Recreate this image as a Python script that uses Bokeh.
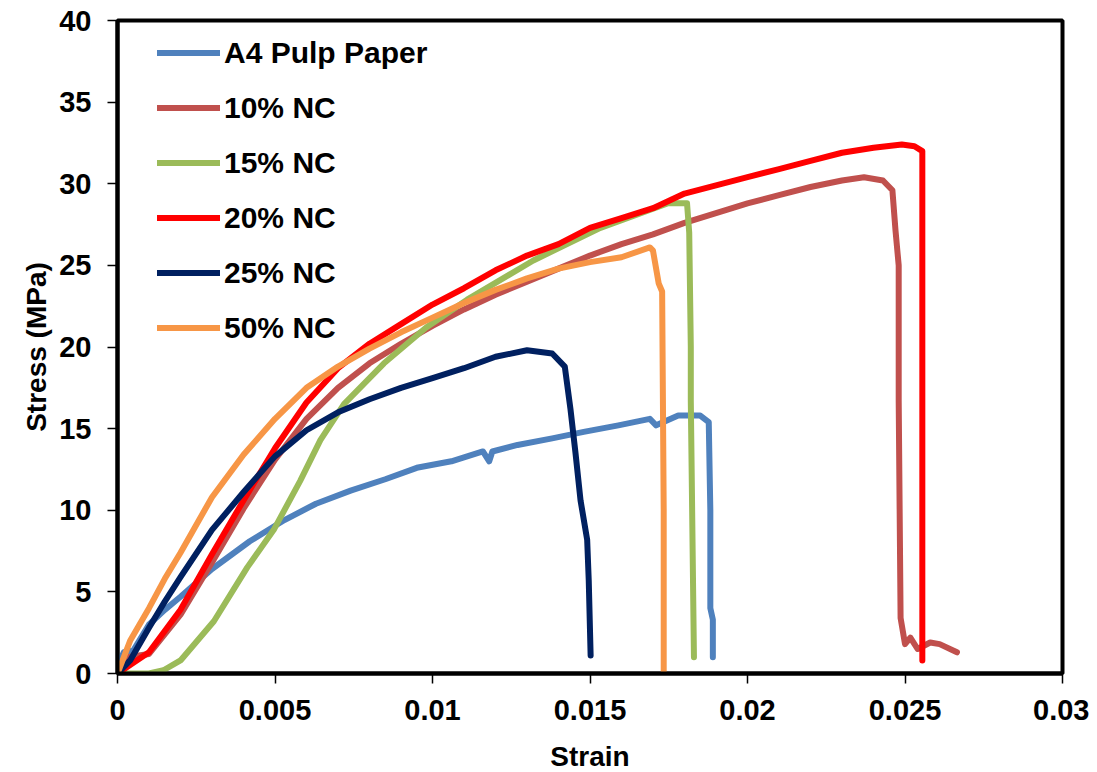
from bokeh.plotting import figure
from bokeh.models import Range1d, FixedTicker, Legend, LegendItem
from bokeh.embed import file_html
from bokeh.resources import INLINE

# ---------------- data (strain, stress MPa) ----------------
a4_strain = [0.0, 0.0002, 0.0005, 0.001, 0.0015, 0.002, 0.003, 0.0042, 0.0053, 0.0063,
             0.0074, 0.0085, 0.0095, 0.0106, 0.0116, 0.0118, 0.0119, 0.0127, 0.0138,
             0.0148, 0.0159, 0.0169, 0.0171, 0.0178, 0.0185, 0.01877, 0.01882, 0.01882,
             0.0189, 0.0189]
a4_stress = [0.5, 1.3, 1.4, 3.0, 3.9, 4.7, 6.4, 8.1, 9.4, 10.4,
             11.2, 11.9, 12.6, 13.0, 13.6, 13.0, 13.6, 14.0, 14.4,
             14.8, 15.2, 15.6, 15.2, 15.8, 15.8, 15.4, 10.0, 4.0,
             3.3, 1.0]

nc10_strain = [0.0, 0.0003, 0.001, 0.002, 0.003, 0.004, 0.005, 0.006, 0.007, 0.008,
               0.009, 0.010, 0.011, 0.012, 0.013, 0.014, 0.015, 0.016, 0.017, 0.018,
               0.019, 0.020, 0.021, 0.022, 0.023, 0.0237, 0.0243, 0.0246, 0.0247,
               0.0248, 0.0248, 0.02486, 0.0250, 0.02517, 0.0254, 0.0258, 0.0261, 0.02665]
nc10_stress = [0.0, 1.0, 1.2, 3.6, 6.8, 10.1, 13.1, 15.6, 17.5, 19.0,
               20.2, 21.3, 22.3, 23.2, 24.0, 24.8, 25.6, 26.3, 26.9, 27.6,
               28.2, 28.8, 29.3, 29.8, 30.2, 30.4, 30.2, 29.6, 27.1,
               25.0, 16.7, 3.4, 1.8, 2.2, 1.5, 1.9, 1.8, 1.3]

nc15_strain = [0.0, 0.0010, 0.00146, 0.002, 0.00306, 0.00412, 0.00496, 0.0058, 0.00644,
               0.00719, 0.00846, 0.0098, 0.0111, 0.0132, 0.01533, 0.01746, 0.01808,
               0.01815, 0.0182, 0.0182, 0.0183]
nc15_stress = [0.0, 0.0, 0.2, 0.8, 3.2, 6.5, 8.8, 11.8, 14.3,
               16.5, 19.0, 21.2, 22.9, 25.3, 27.3, 28.8, 28.8,
               27.0, 20.0, 16.7, 1.0]

nc20_strain = [0.0, 0.001, 0.002, 0.003, 0.004, 0.005, 0.006, 0.007, 0.008, 0.009,
               0.010, 0.011, 0.012, 0.013, 0.014, 0.015, 0.016, 0.017, 0.018, 0.019,
               0.020, 0.021, 0.022, 0.023, 0.024, 0.0249, 0.0253, 0.02555, 0.02555]
nc20_stress = [0.0, 1.3, 3.9, 7.3, 10.6, 13.8, 16.6, 18.7, 20.2, 21.4,
               22.6, 23.6, 24.7, 25.6, 26.3, 27.3, 27.9, 28.5, 29.4, 29.9,
               30.4, 30.9, 31.4, 31.9, 32.2, 32.4, 32.3, 32.0, 0.8]

nc25_strain = [0.0, 0.0004, 0.001, 0.0015, 0.002, 0.003, 0.004, 0.005, 0.006, 0.007,
               0.008, 0.009, 0.010, 0.011, 0.012, 0.013, 0.0138, 0.0142, 0.01438,
               0.01454, 0.0147, 0.01491, 0.01496, 0.01502]
nc25_stress = [0.0, 0.8, 2.8, 4.4, 5.9, 8.8, 11.1, 13.3, 14.9, 16.0,
               16.8, 17.5, 18.1, 18.7, 19.4, 19.8, 19.6, 18.8, 16.2,
               13.5, 10.6, 8.2, 5.7, 1.1]

nc50_strain = [0.0, 0.0004, 0.001, 0.0015, 0.002, 0.003, 0.004, 0.005, 0.006, 0.007,
               0.008, 0.009, 0.010, 0.011, 0.012, 0.013, 0.014, 0.015, 0.016, 0.0169,
               0.0170, 0.01718, 0.01729, 0.01734, 0.01734]
nc50_stress = [0.0, 2.0, 4.0, 5.8, 7.4, 10.8, 13.4, 15.6, 17.5, 18.8,
               19.9, 20.9, 21.8, 22.7, 23.5, 24.2, 24.8, 25.2, 25.5, 26.1,
               25.9, 23.9, 23.4, 10.0, 0.0]

series_names = ["A4 Pulp Paper", "10% NC", "15% NC", "20% NC", "25% NC", "50% NC"]
series_colors = ["#4F81BD", "#C0504D", "#9BBB59", "#FF0000", "#002060", "#F79646"]
series_x = [a4_strain, nc10_strain, nc15_strain, nc20_strain, nc25_strain, nc50_strain]
series_y = [a4_stress, nc10_stress, nc15_stress, nc20_stress, nc25_stress, nc50_stress]

x_ticks = [0, 0.005, 0.01, 0.015, 0.02, 0.025, 0.03]
x_tick_labels = ["0", "0.005", "0.01", "0.015", "0.02", "0.025", "0.03"]
y_ticks = [0, 5, 10, 15, 20, 25, 30, 35, 40]

FONT = "Liberation Sans"

p = figure(frame_width=945, frame_height=653,
           x_range=Range1d(0, 0.03), y_range=Range1d(0, 40),
           output_backend="svg", toolbar_location=None,
           x_axis_label="Strain", y_axis_label="Stress (MPa)")
p.min_border_left = 117
p.min_border_right = 27
p.min_border_top = 20
p.min_border_bottom = 91
p.background_fill_color = "white"
p.border_fill_color = "white"
p.outline_line_color = "black"
p.outline_line_width = 4
p.outline_line_alpha = 1.0
p.xgrid.visible = False
p.ygrid.visible = False

p.xaxis.ticker = FixedTicker(ticks=x_ticks)
p.xaxis.major_label_overrides = {t: l for t, l in zip(x_ticks, x_tick_labels)}
p.yaxis.ticker = FixedTicker(ticks=y_ticks)

for ax in (p.xaxis, p.yaxis):
    ax.axis_line_color = "black"
    ax.axis_line_width = 4
    ax.major_tick_in = 0
    ax.major_tick_out = 10
    ax.major_tick_line_width = 1.5
    ax.major_tick_line_color = "black"
    ax.minor_tick_line_color = None
    ax.major_label_text_font = FONT
    ax.major_label_text_font_style = "bold"
    ax.major_label_text_font_size = "29px"
    ax.major_label_text_color = "black"
    ax.axis_label_text_font = FONT
    ax.axis_label_text_font_style = "bold"
    ax.axis_label_text_font_size = "28px"
    ax.axis_label_text_color = "black"

p.xaxis.major_label_standoff = 16
p.xaxis.axis_label_standoff = 18
p.yaxis.major_label_standoff = 16
p.yaxis.axis_label_standoff = 4

items = []
for name, col, xs, ys in zip(series_names, series_colors, series_x, series_y):
    r = p.line(xs, ys, line_color=col, line_width=6, line_join="round", line_cap="round")
    items.append(LegendItem(label=name, renderers=[r]))

legend = Legend(items=items, location=(40, 328))
legend.background_fill_alpha = 0
legend.border_line_color = None
legend.padding = 0
legend.margin = 0
legend.spacing = 20
legend.glyph_width = 63
legend.glyph_height = 35
legend.label_height = 35
legend.label_standoff = 4
legend.label_text_font = FONT
legend.label_text_font_style = "bold"
legend.label_text_font_size = "30px"
legend.label_text_color = "black"
p.add_layout(legend, "center")

open("out.html", "w").write(file_html(p, INLINE))
